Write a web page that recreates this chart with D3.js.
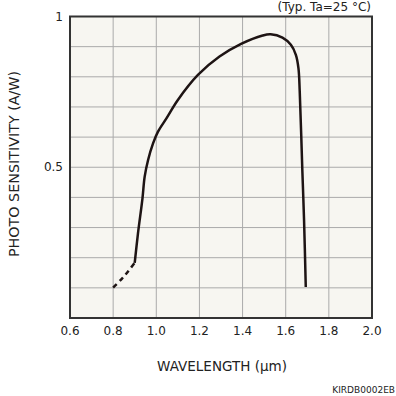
<!DOCTYPE html>
<html>
<head>
<meta charset="utf-8">
<script src="https://cdn.jsdelivr.net/npm/d3@7"></script>
<style>
  body { margin: 0; background: #fff; }
  text { font-family: "DejaVu Sans", Verdana, sans-serif; fill: #222; }
</style>
</head>
<body>
<svg id="graph" width="396" height="396"></svg>
<script>
// wavelength (um) vs photo sensitivity (A/W)
var dashWl   = [0.80, 0.84, 0.87, 0.90]
var dashSens = [0.101, 0.13, 0.155, 0.183]

var solidWl   = [0.90, 0.915, 0.936, 0.946, 0.962, 0.985, 1.008, 1.047, 1.1, 1.193, 1.293, 1.393, 1.493, 1.53, 1.585, 1.624, 1.647, 1.659, 1.665, 1.677, 1.685, 1.693]
var solidSens = [0.183, 0.280, 0.397, 0.468, 0.524, 0.579, 0.618, 0.662, 0.723, 0.806, 0.867, 0.909, 0.937, 0.941, 0.930, 0.906, 0.873, 0.829, 0.751, 0.491, 0.325, 0.103]

var xTicks = [0.6, 0.8, 1.0, 1.2, 1.4, 1.6, 1.8, 2.0]
var yGrid  = [0.1, 0.2, 0.3, 0.4, 0.5, 0.6, 0.7, 0.8, 0.9]
var yLabels = [0.5, 1]

var margin = { top: 16.5, right: 24, bottom: 78, left: 70 }
var width = 396 - margin.left - margin.right
var height = 396 - margin.top - margin.bottom

var svg = d3.select("#graph")
var g = svg.append("g")
    .attr("transform", "translate(" + margin.left + "," + margin.top + ")")

var xScale = d3.scaleLinear().domain([0.6, 2.0]).range([0, width])
var yScale = d3.scaleLinear().domain([0, 1]).range([height, 0])

g.append("rect")
    .attr("width", width).attr("height", height)
    .attr("fill", "#f7f6f1")

// grid
g.selectAll(".vgrid")
    .data(xTicks.slice(1, -1))
    .enter().append("line")
    .attr("x1", d => xScale(d)).attr("x2", d => xScale(d))
    .attr("y1", 0).attr("y2", height)
    .attr("stroke", "#aaa").attr("stroke-width", 1)

g.selectAll(".hgrid")
    .data(yGrid)
    .enter().append("line")
    .attr("x1", 0).attr("x2", width)
    .attr("y1", d => yScale(d)).attr("y2", d => yScale(d))
    .attr("stroke", "#aaa").attr("stroke-width", 1)

g.append("rect")
    .attr("width", width).attr("height", height)
    .attr("fill", "none").attr("stroke", "#333").attr("stroke-width", 2)

// tick labels
g.selectAll(".xl")
    .data(xTicks)
    .enter().append("text")
    .attr("x", d => xScale(d))
    .attr("y", height + 17)
    .attr("text-anchor", "middle")
    .attr("font-size", 12)
    .text(d => d.toFixed(1))

g.selectAll(".yl")
    .data(yLabels)
    .enter().append("text")
    .attr("x", -7)
    .attr("y", d => yScale(d) + 4)
    .attr("text-anchor", "end")
    .attr("font-size", 12)
    .text(d => d)

var line = d3.line()
    .x(d => xScale(d[0]))
    .y(d => yScale(d[1]))
    .curve(d3.curveCatmullRom)

g.append("path")
    .datum(d3.zip(dashWl, dashSens))
    .attr("d", line)
    .attr("fill", "none").attr("stroke", "#1e1414").attr("stroke-width", 2.5)
    .attr("stroke-dasharray", "5,4")

g.append("path")
    .datum(d3.zip(solidWl, solidSens))
    .attr("d", line)
    .attr("fill", "none").attr("stroke", "#1e1414").attr("stroke-width", 2.5)

// titles
svg.append("text")
    .attr("x", 222)
    .attr("y", 371)
    .attr("text-anchor", "middle")
    .attr("font-size", 13.5)
    .text("WAVELENGTH (μm)")

svg.append("text")
    .attr("transform", "translate(19," + 164 + ") rotate(-90)")
    .attr("text-anchor", "middle")
    .attr("font-size", 14.3)
    .text("PHOTO SENSITIVITY (A/W)")

svg.append("text")
    .attr("x", 371).attr("y", 11)
    .attr("text-anchor", "end")
    .attr("font-size", 12)
    .text("(Typ. Ta=25 °C)")

svg.append("text")
    .attr("x", 395).attr("y", 393)
    .attr("text-anchor", "end")
    .attr("font-size", 9)
    .text("KIRDB0002EB")
</script>
</body>
</html>
